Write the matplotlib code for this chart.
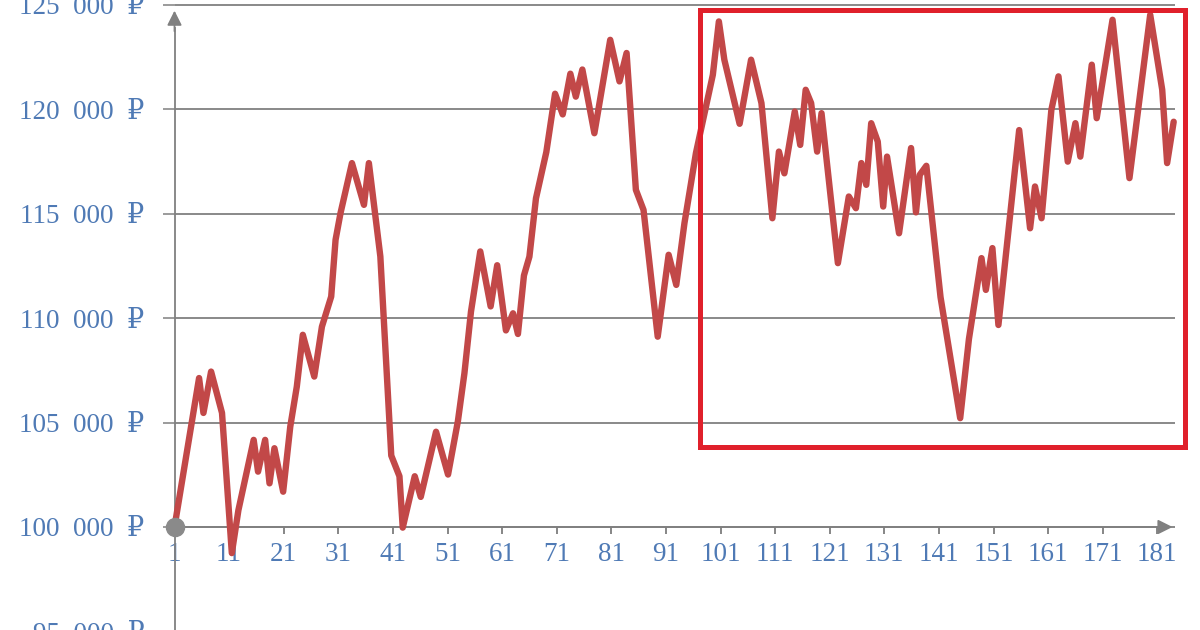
import matplotlib
matplotlib.use("Agg")
import matplotlib.pyplot as plt
from matplotlib.patches import Rectangle
from matplotlib.ticker import FuncFormatter

# turning points of the balance curve (day, rubles)
days = [1, 5.5, 6.3, 7.7, 9.7, 11.5, 12.7, 15.5, 16.3, 17.6, 18.4, 19.3, 20.9,
        22.2, 23.4, 24.5, 26.6, 28.0, 29.7, 30.5, 31.4, 33.5, 35.7, 36.6, 38.7,
        40.7, 42.2, 42.8, 45.0, 46.1, 48.9, 51.1, 52.9, 54.1, 55.3, 57.0, 58.9,
        60.1, 61.7, 63.0, 63.9, 65.0, 66.0, 67.2, 69.1, 70.7, 72.1, 73.5, 74.5,
        75.7, 77.9, 80.8, 82.5, 83.8, 85.5, 86.9, 89.5, 91.5, 92.9, 94.4, 96.5,
        99.6, 100.7, 101.7, 104.5, 106.6, 108.5, 110.5, 111.7, 112.7, 114.6,
        115.6, 116.6, 117.6, 118.7, 119.5, 122.5, 124.5, 125.8, 126.8, 127.7,
        128.6, 129.8, 130.8, 131.5, 133.7, 135.9, 136.8, 137.5, 138.7, 141.3,
        144.9, 146.5, 148.8, 149.6, 150.8, 151.9, 155.7, 157.7, 158.6, 159.8,
        161.6, 162.9, 164.6, 166.0, 166.9, 169.0, 169.9, 172.8, 175.9, 179.7,
        181.9, 182.8, 184.0]
balance = [100000, 107130, 105460, 107440, 105460, 98750, 100800, 104170,
           102650, 104170, 102090, 103770, 101690, 104800, 106720, 109200,
           107200, 109590, 111030, 113750, 115020, 117420, 115420, 117420,
           112950, 103420, 102430, 99970, 102430, 101440, 104560, 102510,
           105060, 107360, 110310, 113190, 110560, 112530, 109410, 110230,
           109240, 112040, 112940, 115730, 117950, 120740, 119750, 121700,
           120600, 121900, 118850, 123320, 121330, 122690, 116140, 115180,
           109110, 113030, 111590, 114550, 117900, 121650, 124200, 122370,
           119300, 122370, 120290, 114780, 117970, 116930, 119890, 118290,
           120930, 120290, 117970, 119810, 112630, 115820, 115260, 117420,
           116380, 119330, 118450, 115340, 117730, 114060, 118140, 115060,
           116860, 117290, 111000, 105210, 109000, 112870, 111350, 113350,
           109670, 119000, 114300, 116300, 114780, 119970, 121570, 117490,
           119330, 117730, 122130, 119570, 124280, 116700, 124520, 120930,
           117420, 119400]

x_ticks = list(range(1, 182, 10))
y_ticks = list(range(95000, 125001, 5000))

line_color = "#C24848"
grid_color = "#808080"
label_color = "#4F7AB5"
font = ["Liberation Serif", "DejaVu Serif"]


def rub(v, pos):
    return f"{int(v):,}".replace(",", "  ") + "  \u20bd"


fig = plt.figure(figsize=(12, 6.3), dpi=100)
ax = fig.add_axes([0, -30 / 630, 1, 660 / 630])
ax.set_xlim(-30.96, 188.82)
ax.set_ylim(93633, 125227)

for s in ["top", "right"]:
    ax.spines[s].set_visible(False)
ax.spines["left"].set_position(("data", 1))
ax.spines["bottom"].set_position(("data", 100000))
ax.spines["left"].set_bounds(93633, 123900)
ax.spines["bottom"].set_bounds(1, 182.5)
for s in ["left", "bottom"]:
    ax.spines[s].set_color(grid_color)
    ax.spines[s].set_linewidth(1.3)

arrow = dict(arrowstyle="-|>", color=grid_color, lw=1.3, mutation_scale=22)
ax.annotate("", xy=(1, 124850), xytext=(1, 123600), arrowprops=arrow)
ax.annotate("", xy=(184.3, 100000), xytext=(182, 100000), arrowprops=arrow)

ax.hlines(y_ticks, 1, 184.2, colors=grid_color, lw=1.3, zorder=1)

ax.set_xticks(x_ticks)
ax.set_yticks(y_ticks)
ax.yaxis.set_major_formatter(FuncFormatter(rub))
ax.tick_params(axis="x", direction="out", length=5, width=1.1, color="#666666",
               pad=6, labelsize=19.5, labelcolor=label_color)
ax.tick_params(axis="y", direction="out", length=8.6, width=1.1, color=grid_color,
               pad=13, labelsize=19.5, labelcolor=label_color)
for lab in ax.get_xticklabels() + ax.get_yticklabels():
    lab.set_family(font)

ax.plot(days, balance, color=line_color, lw=4.6, solid_joinstyle="round",
        solid_capstyle="round", zorder=3)
ax.plot([days[0]], [balance[0]], "o", ms=13, color="#8a8a8a", zorder=4)

ax.add_patch(Rectangle((97.25, 103830), 186.0 - 97.25, 124750 - 103830,
                       fill=False, ec="#E0202B", lw=3.6, zorder=5, clip_on=False))

fig.savefig("out.png", dpi=100)
